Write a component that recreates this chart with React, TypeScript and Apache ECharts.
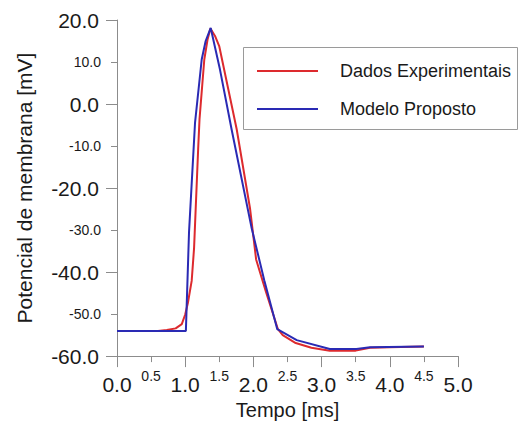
import React, { useEffect, useRef } from 'react';
import * as echarts from 'echarts';

// Dados Experimentais (red)
const experimentalTime = [0.0, 0.3, 0.6, 0.73, 0.86, 0.95, 1.0, 1.04, 1.095, 1.13, 1.16, 1.19, 1.21, 1.28, 1.327, 1.37, 1.437, 1.5, 1.755, 1.95, 2.04, 2.18, 2.36, 2.43, 2.62, 2.85, 3.12, 3.5, 3.71, 4.0, 4.5];
const experimentalVoltage = [-54.0, -54.0, -54.0, -53.8, -53.4, -52.4, -50.1, -47.3, -42.1, -34.3, -22.5, -10.7, -3.6, 10.6, 15.3, 18.0, 16.2, 13.7, -6.0, -24.8, -37.0, -44.5, -53.6, -55.0, -56.9, -58.0, -58.7, -58.7, -58.0, -57.9, -57.7];

// Modelo Proposto (blue)
const modelTime = [0.0, 1.01, 1.056, 1.144, 1.242, 1.3, 1.374, 1.51, 1.68, 1.975, 2.16, 2.35, 2.635, 3.12, 3.51, 3.71, 4.5];
const modelVoltage = [-54.0, -54.0, -30.5, -4.5, 10.6, 15.0, 18.1, 8.2, -6.0, -29.6, -42.0, -53.6, -56.2, -58.3, -58.3, -57.9, -57.7];

const seriesNames = ['Dados Experimentais', 'Modelo Proposto'];
const xAxisTitle = 'Tempo [ms]';
const yAxisTitle = 'Potencial de membrana [mV]';

export default function App() {
  const ref = useRef<HTMLDivElement>(null);

  useEffect(() => {
    if (!ref.current) return;
    const chart = echarts.init(ref.current, null, { renderer: 'svg' });
    const font = '"Liberation Sans", Arial, sans-serif';
    const axisColor = '#8c8c8c';
    const textColor = '#1a1a1a';
    const red = '#dd2a2e';
    const blue = '#2a2ab4';
    const zip = (t: number[], v: number[]) => t.map((x, i) => [x, v[i]]);
    const isHalf = (v: number) => Math.abs(Math.abs(v % 1) - 0.5) < 1e-6;
    const isOddTen = (v: number) => Math.abs(Math.abs(v % 20) - 10) < 1e-6;

    chart.setOption({
      animation: false,
      textStyle: { fontFamily: font },
      grid: { left: 117, right: 61, top: 20, bottom: 65, containLabel: false },
      graphic: [
        {
          type: 'rect',
          silent: true,
          shape: { x: 243.5, y: 47.5, width: 274, height: 82 },
          style: { fill: 'none', stroke: '#9a9a9a', lineWidth: 1 },
        },
      ],
      legend: {
        orient: 'vertical',
        left: 257,
        top: 62,
        padding: 0,
        itemGap: 20,
        itemWidth: 61,
        itemHeight: 2,
        icon: 'rect',
        textStyle: { fontSize: 18, color: textColor, fontFamily: font, padding: [0, 0, 0, 17] },
        data: seriesNames,
      },
      xAxis: [
        {
          type: 'value',
          min: 0,
          max: 5,
          interval: 1,
          name: xAxisTitle,
          nameLocation: 'middle',
          nameGap: 42,
          nameTextStyle: { fontSize: 20, color: textColor, fontFamily: font },
          axisLine: { show: true, onZero: false, lineStyle: { color: axisColor, width: 1 } },
          axisTick: { show: true, length: 11, lineStyle: { color: axisColor, width: 1 } },
          minorTick: { show: true, splitNumber: 2, length: 6, lineStyle: { color: axisColor, width: 1 } },
          splitLine: { show: false },
          minorSplitLine: { show: false },
          axisLabel: { fontSize: 21, color: textColor, margin: 18, fontFamily: font, formatter: (v: number) => v.toFixed(1) },
        },
        {
          type: 'value',
          min: 0,
          max: 5,
          interval: 0.5,
          position: 'bottom',
          axisLine: { show: false, onZero: false },
          axisTick: { show: false },
          splitLine: { show: false },
          axisLabel: { fontSize: 14, color: textColor, margin: 13, fontFamily: font, formatter: (v: number) => (isHalf(v) ? v.toFixed(1) : '') },
        },
      ],
      yAxis: [
        {
          type: 'value',
          min: -60,
          max: 20,
          interval: 20,
          name: yAxisTitle,
          nameLocation: 'middle',
          nameGap: 82,
          nameTextStyle: { fontSize: 21, color: textColor, fontFamily: font },
          axisLine: { show: true, onZero: false, lineStyle: { color: axisColor, width: 1 } },
          axisTick: { show: true, length: 11, lineStyle: { color: axisColor, width: 1 } },
          minorTick: { show: true, splitNumber: 2, length: 6, lineStyle: { color: axisColor, width: 1 } },
          splitLine: { show: false },
          minorSplitLine: { show: false },
          axisLabel: { fontSize: 21, color: textColor, margin: 18, fontFamily: font, formatter: (v: number) => v.toFixed(1) },
        },
        {
          type: 'value',
          min: -60,
          max: 20,
          interval: 10,
          position: 'left',
          axisLine: { show: false, onZero: false },
          axisTick: { show: false },
          splitLine: { show: false },
          axisLabel: { fontSize: 14, color: textColor, margin: 16, fontFamily: font, formatter: (v: number) => (isOddTen(v) ? v.toFixed(1) : '') },
        },
      ],
      series: [
        {
          name: seriesNames[0],
          type: 'line',
          xAxisIndex: 0,
          yAxisIndex: 0,
          data: zip(experimentalTime, experimentalVoltage),
          symbol: 'none',
          showSymbol: false,
          lineStyle: { color: red, width: 2 },
          itemStyle: { color: red },
          z: 2,
        },
        {
          name: seriesNames[1],
          type: 'line',
          xAxisIndex: 0,
          yAxisIndex: 0,
          data: zip(modelTime, modelVoltage),
          symbol: 'none',
          showSymbol: false,
          lineStyle: { color: blue, width: 2 },
          itemStyle: { color: blue },
          z: 3,
        },
      ],
    });

    return () => chart.dispose();
  }, []);

  return (
    <div
      ref={ref}
      style={{ position: 'fixed', left: 0, top: 0, width: 519, height: 425, background: '#ffffff' }}
    />
  );
}
